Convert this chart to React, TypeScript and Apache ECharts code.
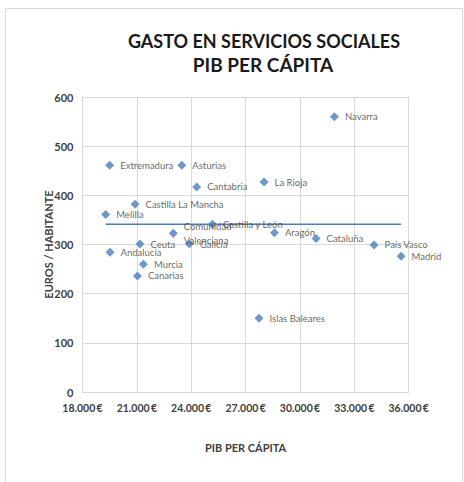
import React, { useEffect, useRef } from "react";
import * as echarts from "echarts";

const regions = [
  "Extremadura", "Asturias", "Cantabria", "La Rioja", "Castilla La Mancha", "Melilla",
  "Comunidad\nValenciana", "Castilla y León", "Ceuta", "Galicia", "Andalucia", "Murcia",
  "Canarias", "Navarra", "Aragón", "Cataluña", "País Vasco", "Madrid", "Islas Baleares",
];
const pibPerCapita = [
  19500, 23480, 24300, 28020, 20900, 19280,
  23010, 25170, 21170, 23900, 19520, 21360,
  21030, 31900, 28590, 30890, 34090, 35580, 27740,
];
const gastoPorHabitante = [
  461, 461, 417, 427, 382, 361,
  323, 341, 301, 301, 284, 260,
  236, 560, 324, 312, 299, 276, 150,
];
const trendValue = 341;
const xTicks = [18000, 21000, 24000, 27000, 30000, 33000, 36000];
const yTicks = [0, 100, 200, 300, 400, 500, 600];

const FONT = "Lato, 'Open Sans', sans-serif";

export default function App() {
  const ref = useRef<HTMLDivElement>(null);
  useEffect(() => {
    if (!ref.current) return;
    const chart = echarts.init(ref.current, undefined, { renderer: "svg" });
    const pts = regions.map((r, i) => ({ name: r, value: [pibPerCapita[i], gastoPorHabitante[i]] }));
    const minX = Math.min(...pibPerCapita);
    const maxX = Math.max(...pibPerCapita);
    const fmtEur = (v: number) => {
      const s = String(Math.round(v));
      const t = s.replace(/\B(?=(\d{3})+(?!\d))/g, ".");
      return t + "\u2009€";
    };
    chart.setOption({
      animation: false,
      backgroundColor: "#ffffff",
      graphic: [
        {
          type: "rect",
          shape: { x: 5.5, y: 8.5, width: 457, height: 480 },
          style: { fill: "none", stroke: "#d9d9d9", lineWidth: 1 },
          silent: true,
        },
        {
          type: "text",
          x: 264,
          y: 41,
          style: {
            text: "GASTO EN SERVICIOS SOCIALES",
            font: "bold 18px Lato, 'Open Sans', sans-serif",
            fill: "#1a1a1a",
            align: "center",
            verticalAlign: "middle",
          },
        },
        {
          type: "text",
          x: 263,
          y: 64,
          style: {
            text: "PIB PER CÁPITA",
            font: "bold 19px Lato, 'Open Sans', sans-serif",
            fill: "#1a1a1a",
            align: "center",
            verticalAlign: "middle",
          },
        },
      ],
      grid: { left: 82.5, right: 55.3, top: 97, bottom: 90, containLabel: false },
      xAxis: {
        type: "value",
        min: xTicks[0],
        max: xTicks[xTicks.length - 1],
        interval: 3000,
        name: "PIB PER CÁPITA",
        nameLocation: "middle",
        nameGap: 50,
        nameMoveOverlap: false,
        nameTextStyle: { fontFamily: FONT, fontWeight: "bold", fontSize: 11, color: "#404040" },
        axisLine: { show: true, lineStyle: { color: "#d9d9d9", width: 1 } },
        axisTick: { show: false },
        axisLabel: {
          formatter: (v: number) => fmtEur(v),
          fontFamily: FONT,
          fontWeight: "bold",
          fontSize: 10.5,
          color: "#404040",
          margin: 10,
        },
        splitLine: { show: true, lineStyle: { color: "#d9d9d9", width: 1 } },
      },
      yAxis: {
        type: "value",
        min: yTicks[0],
        max: yTicks[yTicks.length - 1],
        interval: 100,
        name: "EUROS / HABITANTE",
        nameLocation: "middle",
        nameGap: 29,
        nameRotate: 90,
        nameMoveOverlap: false,
        nameTextStyle: { fontFamily: FONT, fontWeight: "bold", fontSize: 11, color: "#404040" },
        axisLine: { show: true, lineStyle: { color: "#d9d9d9", width: 1 } },
        axisTick: { show: false },
        axisLabel: {
          fontFamily: FONT,
          fontWeight: "bold",
          fontSize: 11,
          color: "#404040",
          margin: 9,
        },
        splitLine: { show: true, lineStyle: { color: "#d9d9d9", width: 1 } },
      },
      series: [
        {
          type: "line",
          data: [[minX, trendValue], [maxX, trendValue]],
          symbol: "none",
          lineStyle: { color: "#4a7ebb", width: 1.5 },
          silent: true,
          z: 1,
        },
        {
          type: "scatter",
          data: pts,
          symbol: "diamond",
          symbolSize: 9,
          itemStyle: { color: "#4a7ebb" },
          label: {
            show: true,
            position: "right",
            distance: 6,
            formatter: (p: any) => p.name,
            fontFamily: FONT,
            fontSize: 9.5,
            color: "#404040",
            lineHeight: 14,
          },
          z: 3,
        },
      ],
    });
    return () => chart.dispose();
  }, []);
  return (
    <div
      ref={ref}
      style={{ position: "fixed", left: 0, top: 0, width: 464, height: 482, background: "#fff" }}
    />
  );
}
